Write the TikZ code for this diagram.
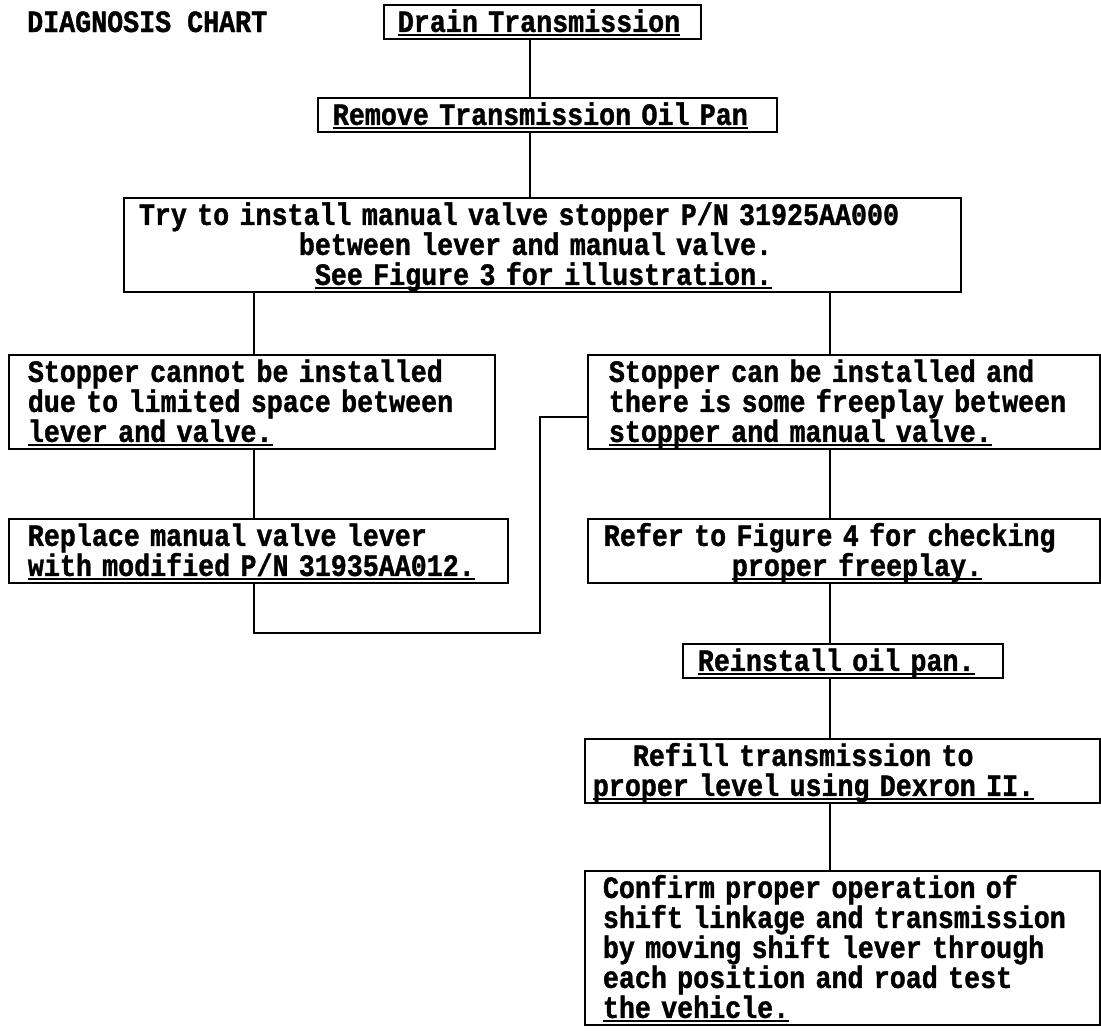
\documentclass[tikz,border=0pt]{standalone}
\usepackage{fontspec}
\newfontfamily\tw{Liberation Mono}[FakeStretch=0.86,FakeBold=1.2]
\newcommand\twfont{\tw\bfseries\fontsize{31}{30}\selectfont\fontdimen2\font=16pt\fontdimen3\font=0pt\fontdimen4\font=0pt\spaceskip=16pt\xspaceskip=16pt\relax}
\newcommand\fs{\rule{0pt}{27pt}}
\newcommand\ls{\rule[-7pt]{0pt}{7pt}}
\newcommand\ind[1]{\hspace*{#1pt}}
\newcommand\ulx[1]{\setbox0\hbox{#1}\rlap{\rule[-4pt]{\wd0}{2pt}}\box0}
\begin{document}
\begin{tikzpicture}[x=1pt,y=-1pt,
  every node/.style={font=\twfont},
  box/.style={draw,line width=1.8pt,inner sep=0pt,anchor=north west,align=left},
  conn/.style={line width=1.6pt}]
\fill[white] (0,0) rectangle (1101,1031);
\useasboundingbox (0,0) rectangle (1101,1031);
\node[anchor=base west,inner sep=0pt] (title) at (27,32) {DIAGNOSIS CHART};
\node[box,text width=317pt] (drain) at (383,4) {\ind{14}\fs\ulx{Drain Transmission}\ls};
\node[box,text width=459pt] (remove) at (317,97) {\ind{15}\fs\ulx{Remove Transmission Oil Pan}\ls};
\node[box,text width=837pt] (try) at (123,197) {\ind{15}\fs Try to install manual valve stopper P/N 31925AA000\\
\ind{175}between lever and manual valve.\\
\ind{191}\ulx{See Figure 3 for illustration.}\ls};
\node[box,text width=486pt] (scannot) at (8,354) {\ind{19}\fs Stopper cannot be installed\\
\ind{19}due to limited space between\\
\ind{19}\ulx{lever and valve.}\ls};
\node[box,text width=512pt] (scan) at (587,354) {\ind{21}\fs Stopper can be installed and\\
\ind{21}there is some freeplay between\\
\ind{21}\ulx{stopper and manual valve.}\ls};
\node[box,text width=499pt] (replace) at (8,518) {\ind{19}\fs Replace manual valve lever\\
\ind{19}\ulx{with modified P/N 31935AA012.}\ls};
\node[box,text width=512pt] (refer) at (587,518) {\ind{16}\fs Refer to Figure 4 for checking\\
\ind{144}\ulx{proper freeplay.}\ls};
\node[box,text width=320pt] (reinstall) at (682,643) {\ind{15}\fs\ulx{Reinstall oil pan.}\ls};
\node[box,text width=515pt] (refill) at (584,738) {\ind{48}\fs Refill transmission to\\
\ind{8}\ulx{proper level using Dexron II.}\ls};
\node[box,text width=515pt] (confirm) at (584,870) {\ind{18}\fs Confirm proper operation of\\
\ind{18}shift linkage and transmission\\
\ind{18}by moving shift lever through\\
\ind{18}each position and road test\\
\ind{18}\ulx{the vehicle.}\ls};
\coordinate (cA) at (530,0);
\coordinate (cL) at (254,0);
\coordinate (cR) at (830,0);
\coordinate (j1) at (254,633);
\coordinate (j2) at (540,633);
\coordinate (j3) at (540,417);
\draw[conn] (drain.south -| cA) -- (remove.north -| cA);
\draw[conn] (remove.south -| cA) -- (try.north -| cA);
\draw[conn] (try.south -| cL) -- (scannot.north -| cL);
\draw[conn] (try.south -| cR) -- (scan.north -| cR);
\draw[conn] (scannot.south -| cL) -- (replace.north -| cL);
\draw[conn] (replace.south -| j1) -- (j1) -- (j2) -- (j3) -- (j3 -| scan.west);
\draw[conn] (scan.south -| cR) -- (refer.north -| cR);
\draw[conn] (refer.south -| cR) -- (reinstall.north -| cR);
\draw[conn] (reinstall.south -| cR) -- (refill.north -| cR);
\draw[conn] (refill.south -| cR) -- (confirm.north -| cR);
\end{tikzpicture}
\end{document}
